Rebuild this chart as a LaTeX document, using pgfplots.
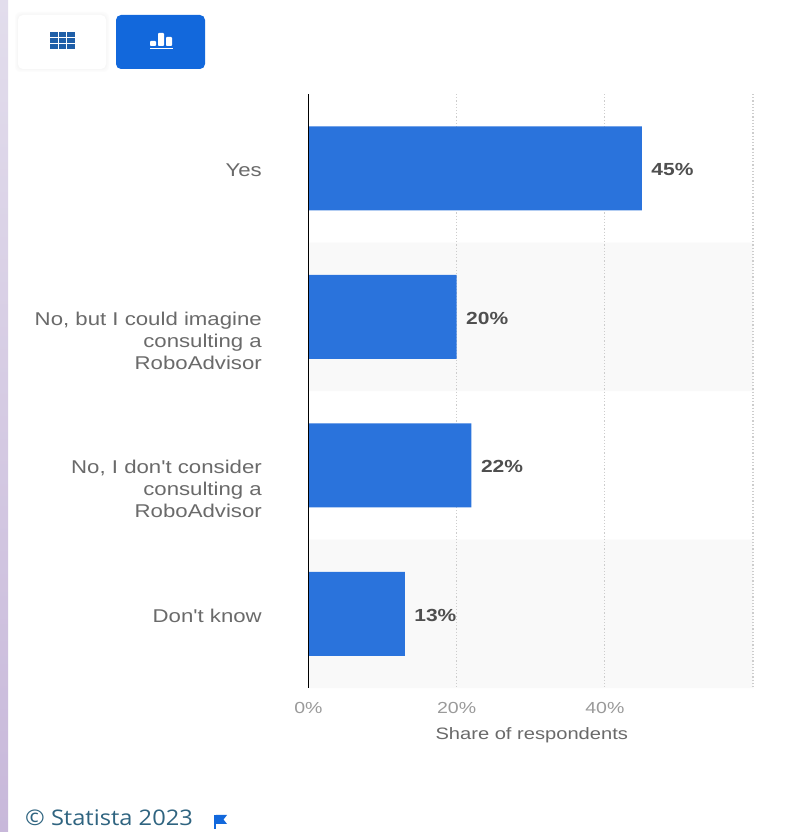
\documentclass[border=0pt]{standalone}
\usepackage{fontspec}
\setmainfont[FakeStretch=1.12]{Liberation Sans}
\newfontfamily\catfont[FakeStretch=1.2]{Liberation Sans}
\newfontfamily\axisfont[FakeStretch=1.22]{Liberation Sans}
\newfontfamily\valfont[FakeStretch=1.2]{Liberation Sans Bold}
\newfontfamily\footfont[FakeStretch=1.1]{Open Sans}
\usepackage{pgfplots}
\pgfplotsset{compat=1.18}
\usepackage{pgfplotstable}
\definecolor{statblue}{HTML}{2A73DC}
\definecolor{btnblue}{HTML}{1268DC}
\definecolor{icondark}{HTML}{1F5FA8}
\definecolor{bandgray}{HTML}{F9F9F9}
\definecolor{gridgray}{HTML}{CDCDCD}
\definecolor{catgray}{HTML}{6A6A6A}
\definecolor{tickgray}{HTML}{9A9A9A}
\definecolor{valgray}{HTML}{4F4F4F}
\definecolor{footteal}{HTML}{2F6480}

\pgfplotstableread{
pos share
0 45
1 20
2 22
3 13
}\sharetable

\pgfplotstableread{
pos w
1 60
3 60
}\bandtable

\pgfplotsset{
  common/.style={
    at={(308.5pt,144pt)}, anchor=south west,
    scale only axis, width=444.5pt, height=594pt,
    xmin=0, xmax=60, ymin=-0.5, ymax=3.5, y dir=reverse,
  }
}

\begin{document}
\begin{tikzpicture}[x=1pt,y=1pt]
\clip (0,0) rectangle (808,832);
\fill[white] (0,0) rectangle (808,832);
% page edge strip
\shade[top color={rgb,255:red,226;green,221;blue,236}, bottom color={rgb,255:red,200;green,184;blue,218}] (0,0) rectangle (8,832);

% view switch buttons
\foreach \o/\c in {3/1,2/2,1/3}{
  \fill[black!\c!white, rounded corners=6] (18-\o,763-\o) rectangle (106+\o,817+\o);
}
\fill[white, rounded corners=5] (18,763) rectangle (106,817);
\fill[btnblue, rounded corners=5] (116,763) rectangle (205,817);
% table icon
\foreach \i in {0,1,2}{
  \foreach \j in {0,1,2}{
    \fill[icondark] (50+\i*8.6,783+\j*6.1) rectangle ++(7.6,5.1);
  }
}
% bar icon
\fill[white] (150,782.5) rectangle (173,784);
\fill[white, rounded corners=.8] (150,786) rectangle (156,791);
\fill[white, rounded corners=.8] (158,786) rectangle (164,799);
\fill[white, rounded corners=.8] (166,786) rectangle (172,795);

% alternating row bands
\begin{axis}[common, hide axis, xbar, bar width=148.5pt]
\addplot[fill=bandgray, draw=none, bar shift=0pt] table[x=w, y=pos] {\bandtable};
\end{axis}

\begin{axis}[common,
  clip=false,
  xbar, bar width=84pt,
  axis line style={draw=none},
  major tick length=0pt,
  xmajorgrids, ymajorgrids=false,
  major grid style={gridgray, line width=1.2pt, dotted},
  xtick={0,20,40,60},
  xticklabels={0\%,20\%,40\%,},
  ytick={0,1,2,3},
  yticklabels={Yes,{No, but I could imagine\\consulting a\\RoboAdvisor},{No, I don't consider\\consulting a\\RoboAdvisor},Don't know},
  yticklabel style={align=right, font=\fontsize{18.5}{22}\catfont, text=catgray, anchor=north east, inner sep=0pt, xshift=-46.5pt, yshift=5pt},
  xticklabel style={font=\fontsize{16}{18}\axisfont, text=tickgray, anchor=center, yshift=-20pt},
  xlabel={Share of respondents},
  xlabel style={font=\fontsize{16.5}{18}\axisfont, text=catgray, at={(axis description cs:0.5,0)}, anchor=center, yshift=-47pt, xshift=1pt},
  point meta=x,
  /pgf/number format/assume math mode=true,
  nodes near coords={\pgfmathprintnumber{\pgfplotspointmeta}\%},
  nodes near coords style={font=\fontsize{17.5}{20}\valfont, text=valgray, anchor=west, xshift=6pt, yshift=-1.5pt},
]
\addplot[fill=statblue, draw=none, bar shift=0pt] table[x=share, y=pos] {\sharetable};
\draw[black, line width=1.6pt] (axis cs:0,-0.5) -- (axis cs:0,3.5);
\end{axis}

% source line
\node[anchor=west, inner sep=0, font=\fontsize{21.5}{24}\footfont, text=footteal] at (25,14) {© Statista 2023};
\fill[btnblue] (214,3) rectangle (216,17);
\fill[btnblue] (216,17) -- (227,17) -- (223.5,12.5) -- (227,8) -- (216,8) -- cycle;
\end{tikzpicture}
\end{document}
